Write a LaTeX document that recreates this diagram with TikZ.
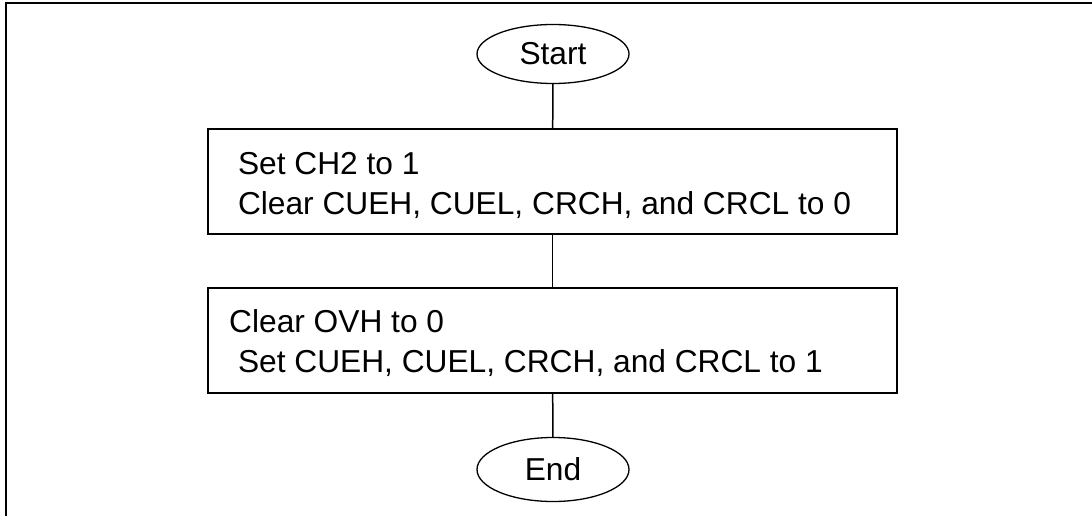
\documentclass[tikz,border=0pt]{standalone}
\usepackage{fontspec}
\setmainfont{Liberation Sans}
\usetikzlibrary{shapes.geometric}
\begin{document}
\begin{tikzpicture}[x=1pt,y=-1pt,
  every node/.style={font=\fontsize{31.7}{40}\selectfont},
  terminal/.style={draw,line width=1.3pt,ellipse,minimum width=152pt,inner sep=0pt},
  stepbox/.style={draw,line width=1.5pt,rectangle,minimum width=689pt,minimum height=105pt,inner sep=0pt},
  label/.style={anchor=base west,inner sep=0pt},
  link/.style={line width=1.5pt}]
\useasboundingbox (0,0) rectangle (1092,516);
\draw[line width=2pt] (1092,3.3) -- (6.3,3.3) -- (6.3,516);
\node[terminal,minimum height=59pt] (start) at (553,54) {Start};
\node[stepbox] (b1) at (552.5,181.5) {};
\node[stepbox] (b2) at (552.5,340.5) {};
\node[terminal,minimum height=64pt] (end) at (553,469.5) {End};
\node[label] (t11) at (229,174) {\ Set CH2 to 1};
\node[label] (t12) at (229,214) {\ Clear CUEH, CUEL, CRCH, and CRCL to 0};
\node[label] (t21) at (229,332) {Clear OVH to 0};
\node[label] (t22) at (229,372) {\ Set CUEH, CUEL, CRCH, and CRCL to 1};
\draw[link] (start) -- (b1);
\draw[link] (b1) -- (b2);
\draw[link] (b2) -- (end);
\end{tikzpicture}
\end{document}
